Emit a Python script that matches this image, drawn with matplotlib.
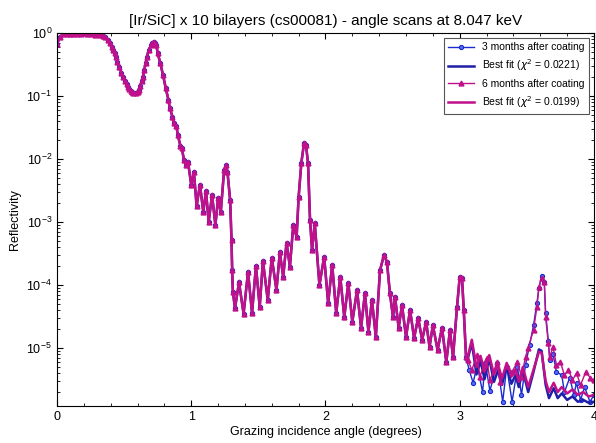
import matplotlib
matplotlib.use('Agg')
import matplotlib.pyplot as plt
import numpy as np
from matplotlib.ticker import LogLocator, MultipleLocator, NullFormatter

plt.rcParams['font.family'] = ['Liberation Sans', 'DejaVu Sans']

# measured points common to both scans (angle in degrees, reflectivity)
x_common = [0.000, 0.022, 0.045, 0.075, 0.10, 0.12, 0.15, 0.18, 0.22, 0.25,
            0.28, 0.32, 0.34, 0.36, 0.38, 0.395, 0.41, 0.42, 0.43, 0.44,
            0.45, 0.465, 0.48, 0.495, 0.51, 0.52, 0.53, 0.54, 0.55, 0.56,
            0.57, 0.585, 0.60, 0.61, 0.62, 0.63, 0.64, 0.65, 0.66, 0.67,
            0.685, 0.70, 0.71, 0.72, 0.73, 0.74, 0.75, 0.77, 0.79, 0.81,
            0.83, 0.84, 0.86, 0.87, 0.89, 0.90, 0.92, 0.93, 0.946, 0.96,
            0.976, 1.00, 1.02, 1.04, 1.065, 1.09, 1.11, 1.13, 1.155, 1.18,
            1.20, 1.22, 1.245, 1.26, 1.27, 1.29, 1.30, 1.305, 1.31, 1.326,
            1.356, 1.39, 1.423, 1.453, 1.482, 1.51, 1.534, 1.57, 1.60, 1.635,
            1.66, 1.685, 1.71, 1.735, 1.76, 1.785, 1.80, 1.82, 1.84, 1.855,
            1.87, 1.885, 1.90, 1.92, 1.955, 1.99, 2.02, 2.05, 2.08, 2.11,
            2.14, 2.17, 2.20, 2.235, 2.265, 2.294, 2.32, 2.346, 2.375, 2.406,
            2.436, 2.458, 2.48, 2.503, 2.518, 2.545, 2.57, 2.60, 2.63, 2.66,
            2.69, 2.72, 2.75, 2.775, 2.80, 2.835, 2.868, 2.90, 2.927, 2.95,
            2.98, 3.00, 3.017, 3.03, 3.047]
r_common = [0.67, 0.86, 0.96, 0.97, 0.97, 0.97, 0.96, 0.96, 0.95, 0.95,
            0.94, 0.92, 0.90, 0.86, 0.77, 0.69, 0.60, 0.54, 0.48, 0.41,
            0.35, 0.29, 0.23, 0.20, 0.17, 0.155, 0.139, 0.13, 0.12, 0.115,
            0.112, 0.112, 0.115, 0.125, 0.144, 0.17, 0.20, 0.26, 0.33, 0.42,
            0.54, 0.64, 0.69, 0.72, 0.70, 0.64, 0.48, 0.33, 0.215, 0.134,
            0.087, 0.065, 0.047, 0.037, 0.033, 0.024, 0.016, 0.0149, 0.0096, 0.0080,
            0.0090, 0.0039, 0.0062, 0.0018, 0.0039, 0.00144, 0.0031, 0.0010, 0.0027, 0.00089,
            0.0024, 0.00144, 0.0067, 0.0080, 0.0062, 0.0022, 5.2e-4, 1.7e-4, 7.8e-5, 4.3e-5,
            1.1e-4, 3.5e-5, 1.6e-4, 3.6e-5, 2.0e-4, 4.5e-5, 2.4e-4, 5.8e-5, 2.7e-4, 8.3e-5,
            3.3e-4, 1.35e-4, 4.7e-4, 1.95e-4, 8.9e-4, 5.8e-4, 2.5e-3, 8.6e-3, 0.0178, 0.0165,
            8.6e-3, 1.07e-3, 3.6e-4, 9.6e-4, 1.0e-4, 2.8e-4, 5.2e-5, 2.1e-4, 3.6e-5, 1.35e-4,
            3.1e-5, 1.07e-4, 2.6e-5, 8.3e-5, 2.1e-5, 7.4e-5, 1.8e-5, 5.8e-5, 1.5e-5, 1.7e-4,
            3.0e-4, 2.3e-4, 7.4e-5, 3.1e-5, 6.5e-5, 2.1e-5, 4.8e-5, 1.5e-5, 4.0e-5, 1.44e-5,
            3.0e-5, 1.35e-5, 2.6e-5, 1.04e-5, 2.3e-5, 9.3e-6, 2.1e-5, 6.0e-6, 1.9e-5, 7.2e-6,
            4.5e-5, 1.35e-4, 1.3e-4, 4.0e-5, 7.2e-6]

# 3 months after coating, above 3.05 deg
x_3m_tail = [3.07, 3.10, 3.13, 3.17, 3.19, 3.225, 3.28, 3.32, 3.35, 3.39,
             3.43, 3.46, 3.49, 3.52, 3.55, 3.575, 3.59, 3.61, 3.63, 3.64,
             3.66, 3.67, 3.695, 3.72, 3.76, 3.78, 3.82, 3.85, 3.87, 3.90,
             3.93, 3.97, 4.00]
r_3m_tail = [4.5e-6, 2.8e-6, 5.4e-6, 2.0e-6, 5.8e-6, 2.1e-6, 5.8e-6, 1.4e-6, 5.0e-6, 1.4e-6,
             5.0e-6, 1.8e-6, 5.4e-6, 1.1e-5, 2.3e-5, 5.2e-5, 9.0e-5, 1.4e-4, 1.1e-4, 3.6e-5,
             1.3e-5, 6.5e-6, 8.0e-6, 4.2e-6, 3.7e-6, 2.0e-6, 3.4e-6, 1.8e-6, 2.8e-6, 1.5e-6,
             2.4e-6, 1.4e-6, 1.8e-6]

# 6 months after coating, above 3.05 deg
x_6m_tail = [3.06, 3.09, 3.13, 3.15, 3.20, 3.225, 3.28, 3.30, 3.35, 3.39,
             3.43, 3.46, 3.49, 3.51, 3.55, 3.575, 3.59, 3.61, 3.63, 3.64,
             3.66, 3.67, 3.695, 3.72, 3.75, 3.78, 3.81, 3.84, 3.87, 3.90,
             3.94, 3.97, 4.00]
r_6m_tail = [6.5e-6, 4.5e-6, 7.7e-6, 3.5e-6, 6.9e-6, 3.1e-6, 6.0e-6, 2.9e-6, 5.1e-6, 4.2e-6,
             6.0e-6, 3.5e-6, 7.2e-6, 1.0e-5, 1.95e-5, 4.5e-5, 9.3e-5, 1.3e-4, 1.1e-4, 3.1e-5,
             1.2e-5, 7.2e-6, 1.04e-5, 5.4e-6, 6.0e-6, 3.7e-6, 4.5e-6, 3.1e-6, 4.0e-6, 2.6e-6,
             4.2e-6, 3.4e-6, 3.1e-6]

# best fits, above 3.05 deg
x_fit_tail = [3.054, 3.09, 3.125, 3.155, 3.185, 3.22, 3.255, 3.285, 3.315, 3.35,
              3.385, 3.415, 3.44, 3.47, 3.51, 3.55, 3.59, 3.61, 3.64, 3.665,
              3.70, 3.73, 3.76, 3.80, 3.84, 3.88, 3.92, 3.96, 4.00]
r_fit3_tail = [6.0e-6, 1.2e-5, 3.8e-6, 6.2e-6, 3.2e-6, 6.8e-6, 2.9e-6, 4.4e-6, 2.6e-6, 5.2e-6,
               2.7e-6, 3.7e-6, 2.4e-6, 4.4e-6, 2.0e-6, 4.2e-6, 9.5e-6, 9.0e-6, 2.6e-6, 1.6e-6,
               2.3e-6, 1.6e-6, 1.9e-6, 1.5e-6, 1.7e-6, 1.4e-6, 1.5e-6, 1.35e-6, 1.4e-6]
r_fit6_tail = [6.5e-6, 1.35e-5, 5.0e-6, 7.5e-6, 4.2e-6, 7.7e-6, 3.8e-6, 5.5e-6, 3.3e-6, 5.8e-6,
               3.5e-6, 4.6e-6, 2.9e-6, 5.0e-6, 2.4e-6, 4.6e-6, 8.7e-6, 8.4e-6, 3.0e-6, 2.0e-6,
               2.8e-6, 2.0e-6, 2.4e-6, 1.9e-6, 2.2e-6, 1.8e-6, 2.0e-6, 1.7e-6, 1.8e-6]

blue = '#1a2ccf'
navy = '#1f1fa8'
mag = '#c0108a'

fig = plt.figure(figsize=(5.96, 4.43), dpi=100)
ax = fig.add_axes([0.0956, 0.0835, 0.901, 0.842])

ax.plot(x_common + x_3m_tail, r_common + r_3m_tail, color=blue, lw=1.0,
        marker='o', ms=3, mfc='#5a6cf0', mec=blue, mew=0.8,
        label='3 months after coating')
ax.plot(x_common + x_fit_tail, r_common + r_fit3_tail, color=navy, lw=1.8,
        label=r'Best fit ($\chi^2$ = 0.0221)')
ax.plot(x_common + x_6m_tail, r_common + r_6m_tail, color=mag, lw=1.0,
        marker='^', ms=3.5, mfc=mag, mec=mag,
        label='6 months after coating')
ax.plot(x_common + x_fit_tail, r_common + r_fit6_tail, color=mag, lw=1.8,
        label=r'Best fit ($\chi^2$ = 0.0199)')

ax.set_yscale('log')
ax.set_xlim(0, 4)
ax.set_ylim(1.2e-6, 1)
ax.xaxis.set_major_locator(MultipleLocator(1))
ax.xaxis.set_minor_locator(MultipleLocator(0.2))
ax.yaxis.set_major_locator(LogLocator(base=10, numticks=10))
ax.yaxis.set_minor_locator(LogLocator(base=10, subs=np.arange(2, 10), numticks=20))
ax.yaxis.set_minor_formatter(NullFormatter())
ax.tick_params(which='both', direction='in', top=True, right=True, labelsize=9)
ax.tick_params(which='major', length=4)
ax.tick_params(which='minor', length=2)

ax.set_xlabel('Grazing incidence angle (degrees)', fontsize=9, labelpad=2)
ax.set_ylabel('Reflectivity', fontsize=9)
ax.set_title('[Ir/SiC] x 10 bilayers (cs00081) - angle scans at 8.047 keV', fontsize=11, pad=6)

leg = ax.legend(loc='upper right', fontsize=7.5, fancybox=False, edgecolor='#555555',
                framealpha=1, handlelength=2.5, borderaxespad=0.5)
leg.get_frame().set_linewidth(0.8)

fig.savefig('out.png', dpi=100)
